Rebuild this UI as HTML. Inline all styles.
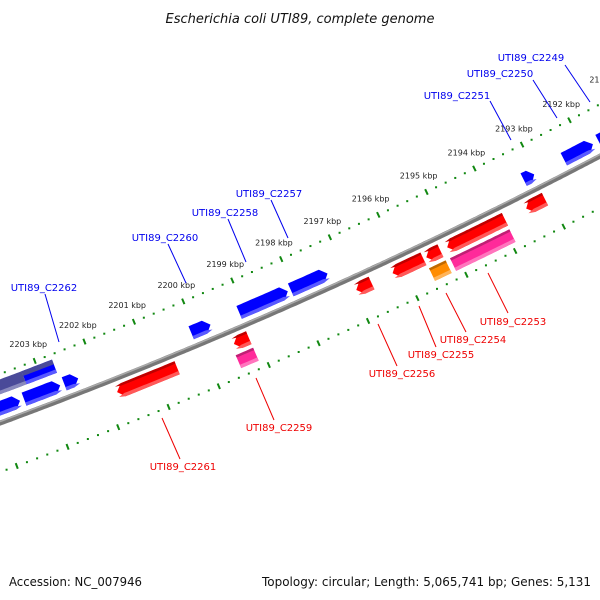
<!DOCTYPE html>
<html><head><meta charset="utf-8">
<style>
html,body{margin:0;padding:0;background:#fff;}
svg{display:block;font-family:"DejaVu Sans","Liberation Sans",sans-serif;}
</style></head>
<body>
<svg id="map" width="600" height="600" viewBox="0 0 600 600" xmlns="http://www.w3.org/2000/svg">
<rect width="600" height="600" fill="#fff"/>
<text x="300" y="23" text-anchor="middle" font-size="13" font-style="italic" fill="#111">Escherichia coli UTI89, complete genome</text>
<g id="ticks"></g>
<g id="backbone"></g>
<g id="genes"></g>
<g id="labels"></g>
<text x="9" y="586" font-size="12" fill="#111" textLength="133" lengthAdjust="spacingAndGlyphs">Accession: NC_007946</text>
<text x="262" y="586" font-size="12" fill="#111" textLength="329" lengthAdjust="spacingAndGlyphs">Topology: circular; Length: 5,065,741 bp; Genes: 5,131</text>
</svg>
<script>
// data
const tickKbp = [2188,2189,2190,2191,2192,2193,2194,2195,2196,2197,2198,2199,2200,2201,2202,2203,2204,2205,2206,2207,2208];
const geneStart = [2191.0, 2191.82, 2193.05, 2197.32, 2198.13, 2199.70, 2202.36, 2202.72, 2203.52, 2202.69, 2203.3, 2193.08, 2193.91, 2193.92, 2195.24, 2195.59, 2195.23, 2196.65, 2199.14, 2199.14, 2200.58];
const geneEnd   = [2191.70, 2192.43, 2193.27, 2198.07, 2199.12, 2200.09, 2202.64, 2203.44, 2204.70, 2203.3, 2205.2, 2193.47, 2195.10, 2195.14, 2195.53, 2196.22, 2195.57, 2196.96, 2199.44, 2199.49, 2201.78];
const geneStrand = [1,1,1,1,1,1,1,1,1,1,1,-1,-1,-1,-1,-1,-1,-1,-1,-1,-1];
const geneLane  = [1,1,1,1,1,1,1,1,1,2,2,1,1,2,1,1,2,1,1,2,1];
const geneArrow = [1,1,1,1,1,1,1,1,1,0,0,1,1,0,1,1,0,1,1,0,1];
const geneColor = ['#0000ff','#0000ff','#0000ff','#0000ff','#0000ff','#0000ff','#0000ff','#0000ff','#0000ff','#0000ff','#4a4a99','#ff0000','#ff0000','#ff2a9a','#ff0000','#ff0000','#ff8c00','#ff0000','#ff0000','#ff2a9a','#ff0000'];
const labelText = ['UTI89_C2249','UTI89_C2250','UTI89_C2251','UTI89_C2257','UTI89_C2258','UTI89_C2260','UTI89_C2262','UTI89_C2253','UTI89_C2254','UTI89_C2255','UTI89_C2256','UTI89_C2259','UTI89_C2261'];

const NS='http://www.w3.org/2000/svg';
const CX=-1785, CY=-4397, RB=5140, RU=5094, RL=5186;
function ang(p){return (67.27+(p-2200)*0.6)*Math.PI/180;}
function pt(p,r){const a=ang(p);return [CX+r*Math.cos(a),CY+r*Math.sin(a)];}
function mk(tag,attrs,parent){const e=document.createElementNS(NS,tag);for(const k in attrs)e.setAttribute(k,attrs[k]);parent.appendChild(e);return e;}
function arcPts(p1,p2,r){const out=[];const n=Math.max(2,Math.ceil(Math.abs(p2-p1)/0.05));for(let i=0;i<=n;i++){out.push(pt(p1+(p2-p1)*i/n,r));}return out;}
function ps(a){return a.map(q=>q[0].toFixed(1)+','+q[1].toFixed(1)).join(' ');}

// backbone
const bb=document.getElementById('backbone');
const bbPts=arcPts(2186,2210,RB);
const b1=mk('polyline',{points:ps(bbPts),fill:'none',stroke:'#777',"stroke-width":5},bb);


const b2=mk('polyline',{points:ps(arcPts(2186,2210,RB-1.5)),fill:'none',stroke:'#aaa',"stroke-width":1.5},bb);



// ticks
const tg=document.getElementById('ticks');
[RU,RL].forEach((R,ri)=>{
  for(let i=0;i<tickKbp.length-1;i++){
    const k=tickKbp[i];
    const a=pt(k,R-3),b=pt(k,R+3);
    const t=mk('line',{x1:a[0],y1:a[1],x2:b[0],y2:b[1],stroke:'#118811',"stroke-width":2},tg);
    
    
    for(let j=1;j<5;j++){
      const c=pt(k+j*0.2,R);
      const d=mk('rect',{x:c[0]-1,y:c[1]-1,width:2,height:2,fill:'#118811'},tg);
      
      
    }
    if(ri===0){
      const l=pt(k,R-18);
      const tx=mk('text',{x:l[0],y:l[1]+3,"text-anchor":"middle","font-size":8,fill:'#222'},tg);
      tx.textContent=k+' kbp';
      
      
    }
  }
});

// genes
const gg=document.getElementById('genes');
function lanes(strand,lane){
  if(strand>0) return lane===1?[RB-21,RB-7]:[RB-41,RB-27];
  return lane===1?[RB+6,RB+20]:[RB+24,RB+38];
}
function shade(c,f){const n=parseInt(c.slice(1),16);let r=n>>16,g=(n>>8)&255,b=n&255;
  if(f>0){r=r+(255-r)*f;g=g+(255-g)*f;b=b+(255-b)*f;}else{r*=1+f;g*=1+f;b*=1+f;}
  return 'rgb('+Math.round(r)+','+Math.round(g)+','+Math.round(b)+')';}
function genePoly(s,e,strand,arrow,r1,r2){
  const tipLen=Math.min(0.12,(e-s)*0.5);
  const mid=(r1+r2)/2;
  if(!arrow){return arcPts(s,e,r1).concat(arcPts(e,s,r2));}
  if(strand>0){ // tip at low p
    const tb=s+tipLen;
    return [pt(s,mid)].concat(arcPts(tb,e,r1)).concat(arcPts(e,tb,r2));
  } else {
    const tb=e-tipLen;
    return [pt(e,mid)].concat(arcPts(tb,s,r1)).concat(arcPts(s,tb,r2));
  }
}
for(let i=0;i<geneStart.length;i++){
  const [r1,r2]=lanes(geneStrand[i],geneLane[i]);
  const g=mk('g',{},gg);
  
  
  const body=mk('polygon',{points:ps(genePoly(geneStart[i],geneEnd[i],geneStrand[i],geneArrow[i],r1,r2)),fill:geneColor[i]},g);
  
  
  const lite=mk('polygon',{points:ps(genePoly(geneStart[i],geneEnd[i],geneStrand[i],geneArrow[i],r2-3.5,r2)),fill:shade(geneColor[i],0.35)},g);
  
  
  if(geneStrand[i]<0){
    const dk=mk('polygon',{points:ps(genePoly(geneStart[i],geneEnd[i],geneStrand[i],geneArrow[i],r1,r1+2.5)),fill:shade(geneColor[i],-0.25)},g);
    
    
  }
}
// slate overlay strip on lane2 blue gene
{
  const s=mk('polygon',{points:ps(arcPts(2202.69,2203.3,RB-41).concat(arcPts(2203.3,2202.69,RB-36))),fill:'#4a4a99'},gg);
  
  
}

// labels (text center x, y; leader line x1,y1,x2,y2)
const lblPos=[[531,57,565,65,590,102],[500,73,533,80,557,118],[457,95,490,101,511,140],[269,193,271,200,288,238],[225,212,228,219,246,262],[165,237,168,244,186,283],[44,287,45,294,59,342],
[513,321,488,273,508,313],[473,339,446,293,466,332],[441,354,419,306,436,347],[402,373,378,324,397,366],[279,427,256,378,274,420],[183,466,162,418,180,459]];
const lg=document.getElementById('labels');
for(let i=0;i<labelText.length;i++){
  const q=lblPos[i];const col=i<7?'#0000ee':'#ee0000';
  const ln=mk('line',{x1:q[2],y1:q[3],x2:q[4],y2:q[5],stroke:col,"stroke-width":1},lg);
  
  
  const t=mk('text',{x:q[0],y:q[1]+4,"text-anchor":"middle","font-size":10,fill:col},lg);
  t.textContent=labelText[i];
  
  
}
</script>
</body></html>
